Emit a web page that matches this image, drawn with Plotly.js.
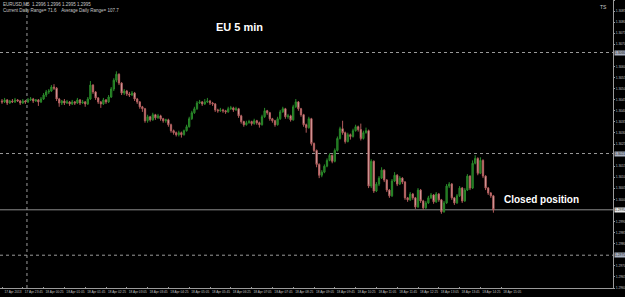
<!DOCTYPE html>
<html><head><meta charset="utf-8">
<script src="https://cdn.plot.ly/plotly-3.0.1.min.js"></script>
<style>html,body{margin:0;padding:0;background:#000;}#chart{width:625px;height:297px;}</style>
</head><body><div id="chart"></div>
<script>
const openP = [1.30444,1.30440,1.30449,1.30435,1.30444,1.30440,1.30449,1.30444,1.30435,1.30444,
1.30440,1.30449,1.30453,1.30444,1.30449,1.30440,1.30453,1.30471,1.30485,1.30489,
1.30507,1.30502,1.30453,1.30435,1.30444,1.30435,1.30440,1.30431,1.30440,1.30435,
1.30449,1.30435,1.30440,1.30431,1.30453,1.30516,1.30485,1.30458,1.30440,1.30431,
1.30449,1.30440,1.30462,1.30498,1.30538,1.30565,1.30525,1.30480,1.30489,1.30476,
1.30471,1.30480,1.30453,1.30440,1.30418,1.30409,1.30355,1.30373,1.30359,1.30382,
1.30368,1.30377,1.30364,1.30355,1.30359,1.30337,1.30310,1.30301,1.30292,1.30301,
1.30292,1.30310,1.30328,1.30364,1.30391,1.30409,1.30435,1.30440,1.30431,1.30440,
1.30444,1.30435,1.30431,1.30404,1.30400,1.30404,1.30400,1.30395,1.30409,1.30413,
1.30404,1.30409,1.30377,1.30351,1.30337,1.30346,1.30351,1.30342,1.30355,1.30346,
1.30337,1.30373,1.30400,1.30391,1.30364,1.30355,1.30337,1.30364,1.30395,1.30409,
1.30373,1.30377,1.30359,1.30418,1.30440,1.30409,1.30382,1.30337,1.30324,1.30364,
1.30252,1.30221,1.30158,1.30109,1.30123,1.30150,1.30176,1.30199,1.30172,1.30221,
1.30275,1.30319,1.30301,1.30261,1.30292,1.30284,1.30310,1.30328,1.30315,1.30275,
1.30301,1.30310,1.30060,1.30172,1.30038,1.30069,1.30096,1.30132,1.30087,1.30042,
1.30016,1.30083,1.30109,1.30069,1.30096,1.30078,1.30007,1.29998,1.30024,1.30007,
1.29966,1.30042,1.29993,1.29962,1.29984,1.30007,1.30020,1.29989,1.30024,1.29998,
1.29944,1.29984,1.30060,1.30069,1.30007,1.29984,1.30016,1.30051,1.29993,1.30042,
1.30105,1.30051,1.30163,1.30185,1.30118,1.30176,1.30105,1.30051,1.30029,1.30016];
const closeP = [1.30440,1.30449,1.30435,1.30444,1.30440,1.30449,1.30444,1.30435,1.30444,1.30440,
1.30449,1.30453,1.30444,1.30449,1.30440,1.30453,1.30471,1.30485,1.30489,1.30507,
1.30502,1.30453,1.30435,1.30444,1.30435,1.30440,1.30431,1.30440,1.30435,1.30449,
1.30435,1.30440,1.30431,1.30453,1.30516,1.30485,1.30458,1.30440,1.30431,1.30449,
1.30440,1.30462,1.30498,1.30538,1.30565,1.30525,1.30480,1.30489,1.30476,1.30471,
1.30480,1.30453,1.30440,1.30418,1.30409,1.30355,1.30373,1.30359,1.30382,1.30368,
1.30377,1.30364,1.30355,1.30359,1.30337,1.30310,1.30301,1.30292,1.30301,1.30292,
1.30310,1.30328,1.30364,1.30391,1.30409,1.30435,1.30440,1.30431,1.30440,1.30444,
1.30435,1.30431,1.30404,1.30400,1.30404,1.30400,1.30395,1.30409,1.30413,1.30404,
1.30409,1.30377,1.30351,1.30337,1.30346,1.30351,1.30342,1.30355,1.30346,1.30337,
1.30373,1.30400,1.30391,1.30364,1.30355,1.30337,1.30364,1.30395,1.30409,1.30373,
1.30377,1.30359,1.30418,1.30440,1.30409,1.30382,1.30337,1.30324,1.30364,1.30252,
1.30221,1.30158,1.30109,1.30123,1.30150,1.30176,1.30199,1.30172,1.30221,1.30275,
1.30319,1.30301,1.30261,1.30292,1.30284,1.30310,1.30328,1.30315,1.30275,1.30301,
1.30310,1.30060,1.30172,1.30038,1.30069,1.30096,1.30132,1.30087,1.30042,1.30016,
1.30083,1.30109,1.30069,1.30096,1.30078,1.30007,1.29998,1.30024,1.30007,1.29966,
1.30042,1.29993,1.29962,1.29984,1.30007,1.30020,1.29989,1.30024,1.29998,1.29944,
1.29984,1.30060,1.30069,1.30007,1.29984,1.30016,1.30051,1.29993,1.30042,1.30105,
1.30051,1.30163,1.30185,1.30118,1.30176,1.30105,1.30051,1.30029,1.30016,1.29953];
const highP = [1.30453,1.30458,1.30453,1.30449,1.30453,1.30458,1.30453,1.30449,1.30453,1.30449,
1.30458,1.30462,1.30458,1.30453,1.30453,1.30462,1.30480,1.30494,1.30498,1.30516,
1.30520,1.30507,1.30458,1.30449,1.30453,1.30449,1.30444,1.30449,1.30444,1.30458,
1.30453,1.30449,1.30444,1.30462,1.30534,1.30520,1.30489,1.30462,1.30444,1.30458,
1.30453,1.30471,1.30507,1.30547,1.30578,1.30569,1.30529,1.30498,1.30494,1.30485,
1.30489,1.30485,1.30458,1.30444,1.30422,1.30413,1.30382,1.30377,1.30391,1.30386,
1.30386,1.30382,1.30368,1.30364,1.30364,1.30342,1.30315,1.30306,1.30310,1.30306,
1.30315,1.30337,1.30373,1.30400,1.30418,1.30444,1.30449,1.30444,1.30453,1.30458,
1.30449,1.30440,1.30435,1.30409,1.30413,1.30409,1.30404,1.30418,1.30422,1.30418,
1.30418,1.30413,1.30382,1.30355,1.30355,1.30359,1.30355,1.30364,1.30359,1.30351,
1.30382,1.30413,1.30404,1.30395,1.30368,1.30359,1.30373,1.30404,1.30418,1.30413,
1.30386,1.30382,1.30427,1.30453,1.30444,1.30413,1.30386,1.30342,1.30373,1.30368,
1.30257,1.30225,1.30163,1.30132,1.30158,1.30185,1.30208,1.30203,1.30230,1.30284,
1.30328,1.30355,1.30306,1.30301,1.30297,1.30319,1.30337,1.30333,1.30342,1.30310,
1.30324,1.30315,1.30181,1.30176,1.30078,1.30105,1.30145,1.30136,1.30092,1.30047,
1.30092,1.30123,1.30114,1.30105,1.30100,1.30083,1.30011,1.30033,1.30029,1.30011,
1.30051,1.30047,1.29998,1.29993,1.30016,1.30029,1.30024,1.30033,1.30029,1.30002,
1.29993,1.30069,1.30078,1.30074,1.30011,1.30024,1.30060,1.30056,1.30051,1.30114,
1.30109,1.30176,1.30199,1.30190,1.30190,1.30181,1.30109,1.30056,1.30033,1.30020];
const lowP = [1.30431,1.30435,1.30426,1.30431,1.30435,1.30435,1.30440,1.30426,1.30431,1.30431,
1.30435,1.30444,1.30435,1.30440,1.30422,1.30435,1.30449,1.30462,1.30476,1.30485,
1.30494,1.30444,1.30418,1.30426,1.30426,1.30431,1.30422,1.30426,1.30426,1.30431,
1.30426,1.30431,1.30418,1.30426,1.30449,1.30476,1.30449,1.30431,1.30413,1.30426,
1.30431,1.30435,1.30458,1.30489,1.30529,1.30516,1.30471,1.30471,1.30467,1.30462,
1.30467,1.30444,1.30431,1.30409,1.30395,1.30346,1.30346,1.30351,1.30355,1.30359,
1.30364,1.30355,1.30346,1.30346,1.30328,1.30301,1.30292,1.30284,1.30284,1.30279,
1.30288,1.30306,1.30324,1.30359,1.30386,1.30404,1.30431,1.30422,1.30426,1.30435,
1.30426,1.30422,1.30395,1.30391,1.30395,1.30391,1.30386,1.30391,1.30404,1.30395,
1.30400,1.30368,1.30342,1.30328,1.30333,1.30342,1.30333,1.30337,1.30337,1.30324,
1.30333,1.30368,1.30382,1.30355,1.30346,1.30328,1.30333,1.30359,1.30391,1.30364,
1.30364,1.30351,1.30355,1.30413,1.30400,1.30373,1.30328,1.30301,1.30319,1.30243,
1.30212,1.30145,1.30096,1.30100,1.30118,1.30145,1.30172,1.30163,1.30167,1.30216,
1.30270,1.30292,1.30252,1.30257,1.30270,1.30279,1.30306,1.30306,1.30266,1.30270,
1.30297,1.30051,1.30051,1.30029,1.30033,1.30060,1.30092,1.30078,1.30033,1.30007,
1.30011,1.30078,1.30060,1.30065,1.30069,1.29998,1.29989,1.29993,1.29998,1.29957,
1.29962,1.29984,1.29953,1.29957,1.29980,1.30002,1.29980,1.29984,1.29989,1.29935,
1.29940,1.29980,1.30051,1.29998,1.29975,1.29980,1.30011,1.29984,1.29989,1.30038,
1.30042,1.30047,1.30158,1.30109,1.30114,1.30096,1.30042,1.30020,1.30007,1.29940];
const tickIdx = [0,8,16,24,32,40,48,56,64,72,80,88,96,104,112,120,128,136,144,152,160,168,176,184,192];
const tickLabels = ["17 Apr 2013","17 Apr 23:45","18 Apr 00:25","18 Apr 01:05","18 Apr 01:45","18 Apr 02:25",
"18 Apr 03:05","18 Apr 03:45","18 Apr 04:25","18 Apr 05:05","18 Apr 05:45","18 Apr 06:25","18 Apr 07:05",
"18 Apr 07:45","18 Apr 08:25","18 Apr 09:05","18 Apr 09:45","18 Apr 10:25","18 Apr 11:05","18 Apr 11:45",
"18 Apr 12:25","18 Apr 13:05","18 Apr 13:45","18 Apr 14:25","18 Apr 15:05"];
const priceTicks = [1.2960,1.2965,1.2970,1.2975,1.2980,1.2985,1.2990,1.2995,1.3000,1.3005,1.3010,1.3015,1.3020,
1.3025,1.3030,1.3035,1.3040,1.3045,1.3050,1.3055,1.3060,1.3065,1.3070,1.3075,1.3080,1.3085,1.3090];
const levelPrices = [1.30663, 1.30207, 1.29748];
const separatorIdx = 9.6;

const idx = closeP.map((_, i) => i);
const lastClose = closeP[closeP.length - 1];
const marked = levelPrices.concat([lastClose]);
const shownTicks = priceTicks.filter(t => marked.every(m => Math.abs(m - t) > 0.00018));

const trace = {
  type: 'candlestick', x: idx, open: openP, high: highP, low: lowP, close: closeP,
  increasing: {line: {color: '#2a8a2a', width: 1}, fillcolor: '#1a661a'},
  decreasing: {line: {color: '#b05a5a', width: 1}, fillcolor: '#ffe8e8'},
  whiskerwidth: 0, hoverinfo: 'none'
};

const shapes = [];
levelPrices.forEach(p => shapes.push({type:'line', xref:'paper', x0:0, x1:1, yref:'y', y0:p, y1:p,
  line:{color:'#9a9a9a', width:1, dash:'dot'}, layer:'below'}));
shapes.push({type:'line', xref:'paper', x0:0, x1:1, yref:'y', y0:lastClose, y1:lastClose,
  line:{color:'#8c8c8c', width:1}, layer:'below'});
shapes.push({type:'line', xref:'x', x0:separatorIdx, x1:separatorIdx, yref:'paper', y0:0, y1:1,
  line:{color:'#9a9a9a', width:1, dash:'dot'}, layer:'below'});

const fnt = "Liberation Sans, Arial, sans-serif";
const annotations = [];
levelPrices.forEach(p => annotations.push({xref:'paper', x:1.001, xanchor:'left', yref:'y', y:p,
  text:p.toFixed(4), showarrow:false, font:{size:3.3, color:'#202020', family:fnt},
  bgcolor:'#a8b0c0', borderpad:0}));
annotations.push({xref:'paper', x:1.001, xanchor:'left', yref:'y', y:lastClose,
  text:lastClose.toFixed(4), showarrow:false, font:{size:3.3, color:'#202020', family:fnt},
  bgcolor:'#e8e8e8', borderpad:0});
annotations.push({xref:'paper', yref:'paper', x:0.391, y:0.907, xanchor:'center', yanchor:'middle',
  text:'<b>EU 5 min</b>', showarrow:false, font:{size:11, color:'#ffffff', family:fnt}});
annotations.push({xref:'paper', yref:'paper', x:0.884, y:0.309, xanchor:'center', yanchor:'middle',
  text:'<b>Closed position</b>', showarrow:false, font:{size:10, color:'#ffffff', family:fnt}});
annotations.push({xref:'paper', yref:'paper', x:0.002, y:1.0, xanchor:'left', yanchor:'top',
  text:'EURUSD,M5  1.2996 1.2996 1.2995 1.2995<br>Current Daily Range= 71.6    Average Daily Range= 107.7',
  showarrow:false, align:'left', font:{size:4.5, color:'#c8c8c8', family:fnt}});
annotations.push({xref:'paper', yref:'paper', x:0.985, y:0.975, xanchor:'center', yanchor:'middle',
  text:'TS', showarrow:false, font:{size:5, color:'#c8c8c8', family:fnt}});

const layout = {
  width: 625, height: 297,
  margin: {l:0, r:12, t:0, b:9, pad:0},
  paper_bgcolor: '#000000', plot_bgcolor: '#000000',
  showlegend: false,
  xaxis: {range:[-0.77, 235.0], rangeslider:{visible:false}, tickvals:tickIdx, ticktext:tickLabels,
    showgrid:false, zeroline:false, showline:true, linecolor:'#9a9a9a', linewidth:1,
    ticks:'inside', ticklen:1, tickcolor:'#9a9a9a', ticklabelshift:11, ticklabelstandoff:0,
    tickfont:{size:3.2, color:'#c0c0c0', family:fnt}, fixedrange:true},
  yaxis: {range:[1.2960, 1.3090], side:'right', tickvals:shownTicks, ticktext:shownTicks.map(t => t.toFixed(4)),
    showgrid:false, zeroline:false, showline:true, linecolor:'#9a9a9a', linewidth:1,
    ticks:'outside', ticklen:1, tickcolor:'#9a9a9a', ticklabelstandoff:0,
    tickfont:{size:3.3, color:'#c0c0c0', family:fnt}, fixedrange:true},
  shapes: shapes, annotations: annotations,
  font: {family: fnt}
};
Plotly.newPlot('chart', [trace], layout, {displayModeBar:false, staticPlot:true});
</script></body></html>
